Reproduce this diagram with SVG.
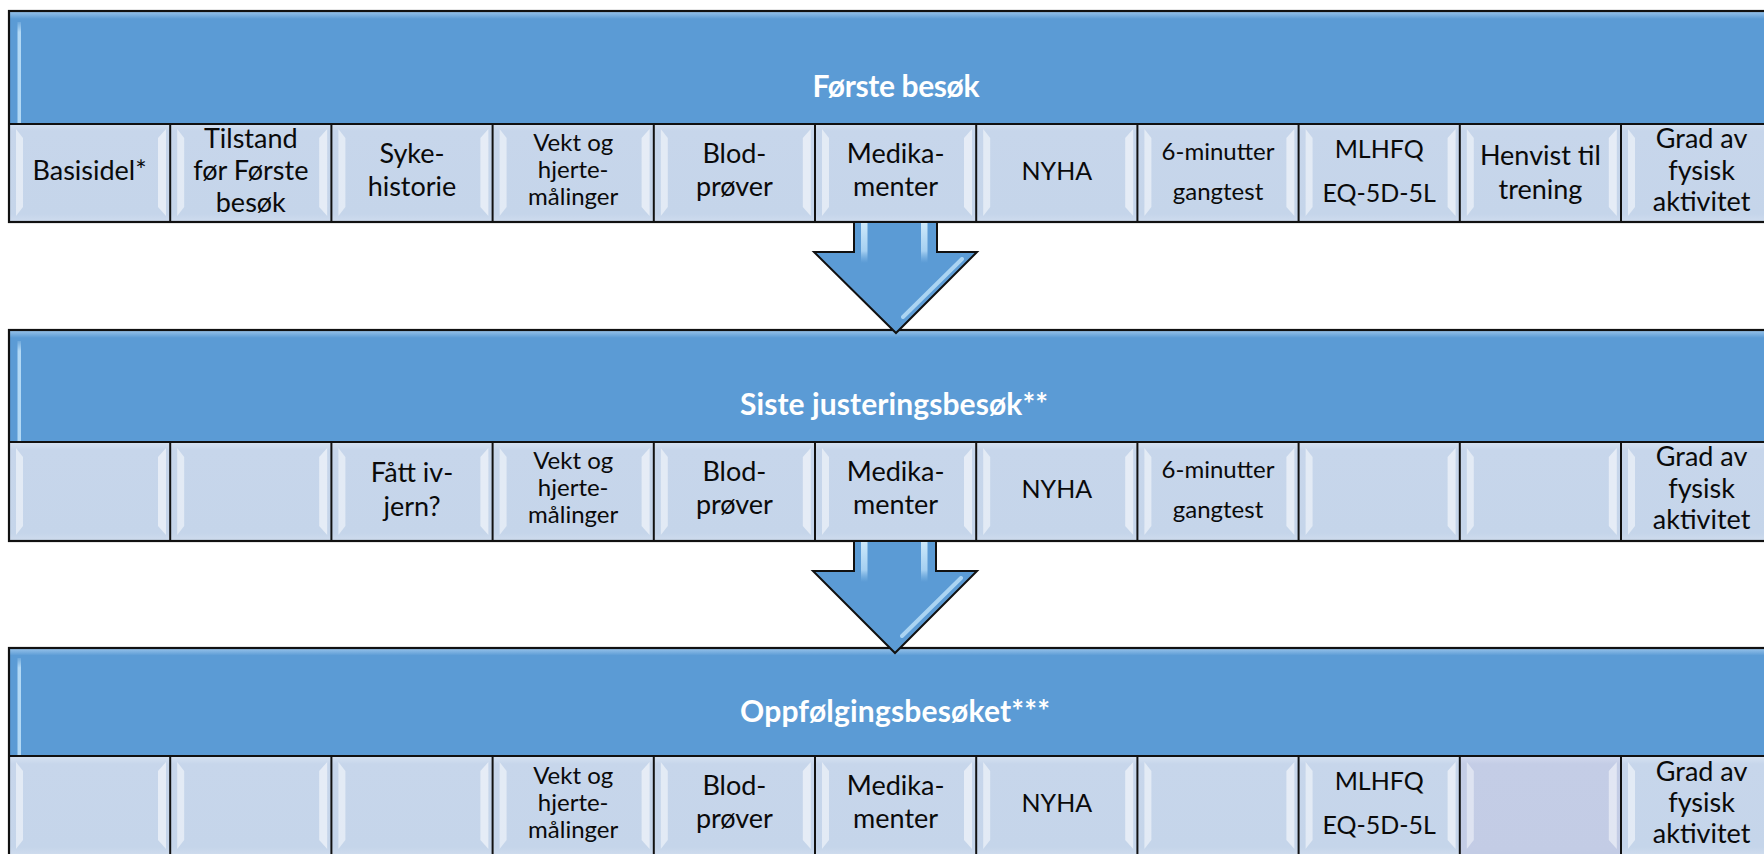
<svg xmlns="http://www.w3.org/2000/svg" xmlns:xlink="http://www.w3.org/1999/xlink" width="1764" height="854" viewBox="0 0 1764 854">
<style>
  .hdr { fill: url(#hdrGrad); }
  .frame { fill: none; stroke: #111; stroke-width: 2.2; }
  .div { stroke: #111; stroke-width: 2; }
  .htxt { font-family: Lato, "Liberation Sans", sans-serif; font-weight: bold; font-size: 30px; fill: #ffffff; text-anchor: middle; }
  .ctxt { font-family: Lato, "Liberation Sans", sans-serif; font-size: 27px; fill: #0a0a0a; text-anchor: middle; }
  .s25 { font-size: 25px; }
  .s24 { font-size: 24px; }
  .arrowFill { fill: #5B9BD5; }
  .arrowLine { fill: none; stroke: #111; stroke-width: 2; stroke-linejoin: miter; }
  .shine { fill: url(#shineGrad); }
  .diag { stroke: #B9DFF8; stroke-width: 4; stroke-linecap: round; opacity: 0.85; }
  .lhl { fill: url(#lhlGrad); }
</style>
<defs>
  <linearGradient id="hdrGrad" x1="0" y1="0" x2="0" y2="1">
    <stop offset="0" stop-color="#9CC6EC"/>
    <stop offset="0.07" stop-color="#5B9BD5"/>
    <stop offset="1" stop-color="#5B9BD5"/>
  </linearGradient>
  <linearGradient id="cellGrad" x1="0" y1="0" x2="0" y2="1">
    <stop offset="0" stop-color="#D7E3F2"/>
    <stop offset="0.08" stop-color="#C7D6EB"/>
    <stop offset="0.92" stop-color="#C5D5EA"/>
    <stop offset="1" stop-color="#CFDCEE"/>
  </linearGradient>
  <linearGradient id="cellAltGrad" x1="0" y1="0" x2="0" y2="1">
    <stop offset="0" stop-color="#D3DAEE"/>
    <stop offset="0.08" stop-color="#C4CDE6"/>
    <stop offset="1" stop-color="#C3CCE5"/>
  </linearGradient>
  <linearGradient id="shineGrad" x1="0" y1="0" x2="0" y2="1">
    <stop offset="0" stop-color="#D4EEFD" stop-opacity="0.95"/>
    <stop offset="0.7" stop-color="#B8DDF8" stop-opacity="0.8"/>
    <stop offset="1" stop-color="#8EC2EC" stop-opacity="0"/>
  </linearGradient>
  <linearGradient id="lhlGrad" x1="0" y1="0" x2="0" y2="1">
    <stop offset="0" stop-color="#B7DCF7" stop-opacity="0.2"/>
    <stop offset="0.1" stop-color="#B7DCF7" stop-opacity="0.95"/>
    <stop offset="1" stop-color="#B7DCF7" stop-opacity="0.95"/>
  </linearGradient>
  <g id="cell">
    <rect width="161.2" height="99" fill="url(#cellGrad)"/>
    <polygon points="7,6 14,15 14,84 7,93" fill="#ffffff" fill-opacity="0.5"/>
    <polygon points="157,6 149,15 149,84 157,93" fill="#ffffff" fill-opacity="0.55"/>
  </g>
  <g id="cellAlt">
    <rect width="161.2" height="99" fill="url(#cellAltGrad)"/>
    <polygon points="7,6 14,15 14,84 7,93" fill="#ffffff" fill-opacity="0.45"/>
    <polygon points="157,6 149,15 149,84 157,93" fill="#ffffff" fill-opacity="0.5"/>
  </g>
  <g id="dividers">
    <line class="div" x1="170.2" y1="0" x2="170.2" y2="99"/>
    <line class="div" x1="331.4" y1="0" x2="331.4" y2="99"/>
    <line class="div" x1="492.6" y1="0" x2="492.6" y2="99"/>
    <line class="div" x1="653.8" y1="0" x2="653.8" y2="99"/>
    <line class="div" x1="815" y1="0" x2="815" y2="99"/>
    <line class="div" x1="976.2" y1="0" x2="976.2" y2="99"/>
    <line class="div" x1="1137.4" y1="0" x2="1137.4" y2="99"/>
    <line class="div" x1="1298.6" y1="0" x2="1298.6" y2="99"/>
    <line class="div" x1="1459.8" y1="0" x2="1459.8" y2="99"/>
    <line class="div" x1="1621" y1="0" x2="1621" y2="99"/>
  </g>
  <g id="cellrow">
    <use xlink:href="#cell" x="9"/>
    <use xlink:href="#cell" x="170.2"/>
    <use xlink:href="#cell" x="331.4"/>
    <use xlink:href="#cell" x="492.6"/>
    <use xlink:href="#cell" x="653.8"/>
    <use xlink:href="#cell" x="815"/>
    <use xlink:href="#cell" x="976.2"/>
    <use xlink:href="#cell" x="1137.4"/>
    <use xlink:href="#cell" x="1298.6"/>
    <use xlink:href="#cell" x="1459.8"/>
    <use xlink:href="#cell" x="1621"/>
  </g>
</defs>

<rect width="1764" height="854" fill="#ffffff"/>

<!-- Panel 1 -->
<g id="panel-forste-besok">
  <rect class="hdr" x="9" y="11" width="1800" height="113"/>
  <rect class="lhl" x="17.5" y="22" width="3.5" height="101"/>
  <text class="htxt" x="896" y="97" textLength="167">Første besøk</text>
  <use xlink:href="#cellrow" transform="translate(0,123)"/>
  <use xlink:href="#dividers" transform="translate(0,123)"/>
  <line class="div" x1="9" y1="124" x2="1764" y2="124"/>
  <rect class="frame" x="9" y="11" width="1800" height="211"/>
  <g id="p1-basisidel"><text class="ctxt" x="89.6" y="180">Basisidel*</text></g>
  <g id="p1-tilstand"><text class="ctxt" x="250.8" y="148">Tilstand</text><text class="ctxt" x="250.8" y="180">før Første</text><text class="ctxt" x="250.8" y="212">besøk</text></g>
  <g id="p1-sykehistorie"><text class="ctxt" x="412" y="163">Syke-</text><text class="ctxt" x="412" y="196">historie</text></g>
  <g id="p1-vekt"><text class="ctxt s24" x="573.2" y="151">Vekt og</text><text class="ctxt s24" x="573.2" y="178">hjerte-</text><text class="ctxt s24" x="573.2" y="205">målinger</text></g>
  <g id="p1-blod"><text class="ctxt" x="734.4" y="163">Blod-</text><text class="ctxt" x="734.4" y="196">prøver</text></g>
  <g id="p1-medika"><text class="ctxt" x="895.6" y="163">Medika-</text><text class="ctxt" x="895.6" y="196">menter</text></g>
  <g id="p1-nyha"><text class="ctxt s25" x="1056.8" y="180">NYHA</text></g>
  <g id="p1-6min"><text class="ctxt s24" x="1218" y="160">6-minutter</text><text class="ctxt s24" x="1218" y="200">gangtest</text></g>
  <g id="p1-mlhfq"><text class="ctxt s25" x="1379.2" y="158">MLHFQ</text><text class="ctxt s25" x="1379.2" y="202">EQ-5D-5L</text></g>
  <g id="p1-henvist"><text class="ctxt" x="1540.4" y="165">Henvist til</text><text class="ctxt" x="1540.4" y="199">trening</text></g>
  <g id="p1-grad"><text class="ctxt" x="1701.6" y="148">Grad av</text><text class="ctxt" x="1701.6" y="180">fysisk</text><text class="ctxt" x="1701.6" y="211">aktivitet</text></g>
</g>

<!-- Panel 2 -->
<g id="panel-siste-justering">
  <rect class="hdr" x="9" y="330" width="1800" height="112"/>
  <rect class="lhl" x="17.5" y="341" width="3.5" height="100"/>
  <text class="htxt" x="894" y="415" textLength="308">Siste justeringsbesøk**</text>
  <use xlink:href="#cellrow" transform="translate(0,442)"/>
  <use xlink:href="#dividers" transform="translate(0,442)"/>
  <line class="div" x1="9" y1="442" x2="1764" y2="442"/>
  <rect class="frame" x="9" y="330" width="1800" height="211"/>
  <g id="p2-fatt"><text class="ctxt" x="412" y="482">Fått iv-</text><text class="ctxt" x="412" y="516">jern?</text></g>
  <g id="p2-vekt"><text class="ctxt s24" x="573.2" y="469">Vekt og</text><text class="ctxt s24" x="573.2" y="496">hjerte-</text><text class="ctxt s24" x="573.2" y="523">målinger</text></g>
  <g id="p2-blod"><text class="ctxt" x="734.4" y="481">Blod-</text><text class="ctxt" x="734.4" y="514">prøver</text></g>
  <g id="p2-medika"><text class="ctxt" x="895.6" y="481">Medika-</text><text class="ctxt" x="895.6" y="514">menter</text></g>
  <g id="p2-nyha"><text class="ctxt s25" x="1056.8" y="498">NYHA</text></g>
  <g id="p2-6min"><text class="ctxt s24" x="1218" y="478">6-minutter</text><text class="ctxt s24" x="1218" y="518">gangtest</text></g>
  <g id="p2-grad"><text class="ctxt" x="1701.6" y="466">Grad av</text><text class="ctxt" x="1701.6" y="498">fysisk</text><text class="ctxt" x="1701.6" y="529">aktivitet</text></g>
</g>

<!-- Panel 3 -->
<g id="panel-oppfolging">
  <rect class="hdr" x="9" y="648" width="1800" height="108"/>
  <rect class="lhl" x="17.5" y="658" width="3.5" height="97"/>
  <text class="htxt" x="895" y="722" textLength="310">Oppfølgingsbesøket***</text>
  <use xlink:href="#cellrow" transform="translate(0,756)"/>
  <use xlink:href="#cellAlt" x="1459.8" y="756"/>
  <use xlink:href="#dividers" transform="translate(0,756)"/>
  <line class="div" x1="9" y1="756" x2="1764" y2="756"/>
  <rect class="frame" x="9" y="648" width="1800" height="211"/>
  <g id="p3-vekt"><text class="ctxt s24" x="573.2" y="784">Vekt og</text><text class="ctxt s24" x="573.2" y="811">hjerte-</text><text class="ctxt s24" x="573.2" y="838">målinger</text></g>
  <g id="p3-blod"><text class="ctxt" x="734.4" y="795">Blod-</text><text class="ctxt" x="734.4" y="828">prøver</text></g>
  <g id="p3-medika"><text class="ctxt" x="895.6" y="795">Medika-</text><text class="ctxt" x="895.6" y="828">menter</text></g>
  <g id="p3-nyha"><text class="ctxt s25" x="1056.8" y="812">NYHA</text></g>
  <g id="p3-mlhfq"><text class="ctxt s25" x="1379.2" y="790">MLHFQ</text><text class="ctxt s25" x="1379.2" y="834">EQ-5D-5L</text></g>
  <g id="p3-grad"><text class="ctxt" x="1701.6" y="781">Grad av</text><text class="ctxt" x="1701.6" y="812">fysisk</text><text class="ctxt" x="1701.6" y="843">aktivitet</text></g>
</g>

<!-- Connectors -->
<g id="connectors">
  <g id="arrow-1">
    <path class="arrowFill" d="M854,223 V252 H814 L896,333 L977,252 H937 V223 Z"/>
    <rect class="shine" x="861" y="223" width="6.5" height="40"/>
    <rect class="shine" x="921" y="223" width="6.5" height="40"/>
    <line class="diag" x1="962" y1="259" x2="903" y2="317"/>
    <polyline class="arrowLine" points="854,223 854,252 814,252 896,333 977,252 937,252 937,223"/>
  </g>
  <g id="arrow-2">
    <path class="arrowFill" d="M854,542 V571 H813 L895,653 L977,571 H936 V542 Z"/>
    <rect class="shine" x="861" y="542" width="6.5" height="40"/>
    <rect class="shine" x="921" y="542" width="6.5" height="40"/>
    <line class="diag" x1="961" y1="578" x2="902" y2="636"/>
    <polyline class="arrowLine" points="854,542 854,571 813,571 895,653 977,571 936,571 936,542"/>
  </g>
</g>
</svg>
